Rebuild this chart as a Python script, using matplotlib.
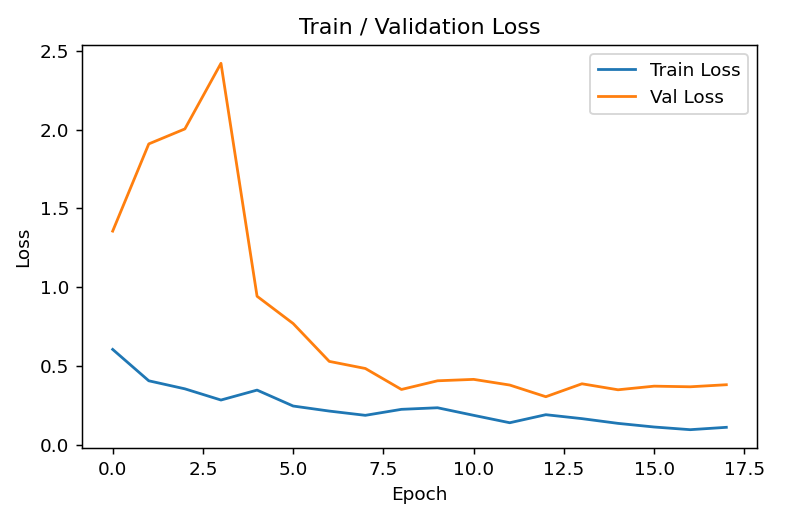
import numpy as np
import matplotlib
matplotlib.use("Agg")
import matplotlib.pyplot as plt

# loss per epoch
epochs = list(range(18))
train_loss = [0.606, 0.407, 0.356, 0.285, 0.348, 0.247, 0.215, 0.188, 0.226,
              0.236, 0.188, 0.141, 0.192, 0.167, 0.137, 0.114, 0.097, 0.112]
val_loss = [1.356, 1.909, 2.004, 2.420, 0.943, 0.770, 0.530, 0.485, 0.352,
            0.407, 0.416, 0.380, 0.306, 0.388, 0.350, 0.373, 0.369, 0.382]

dpi = 800 / 6
fig = plt.figure(figsize=(6, 515 / dpi), dpi=dpi)
ax = fig.add_subplot(111)
ax.plot(epochs, train_loss, label="Train Loss")
ax.plot(epochs, val_loss, label="Val Loss")
ax.set_xlabel("Epoch")
ax.set_ylabel("Loss")
ax.set_title("Train / Validation Loss")
ax.legend()
fig.subplots_adjust(left=82 / 800, right=757 / 800, top=1 - 45 / 515, bottom=1 - 448 / 515)
fig.savefig("out.png", dpi=dpi)
